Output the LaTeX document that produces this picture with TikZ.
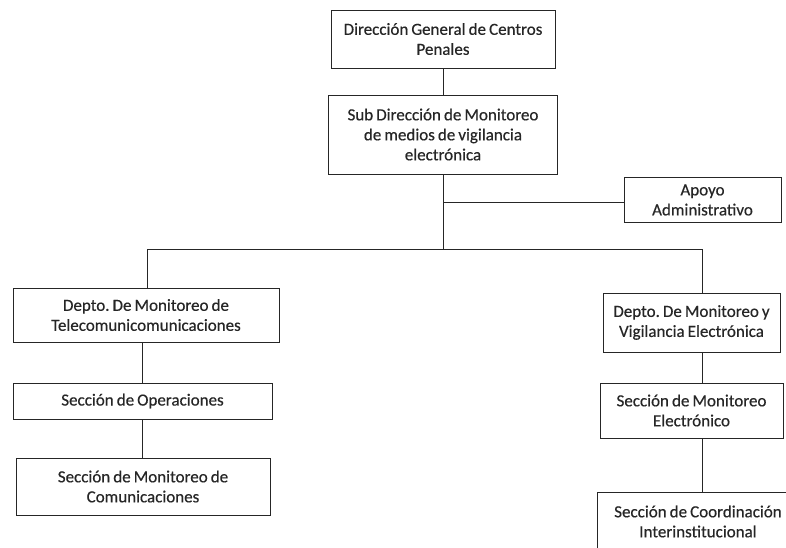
\documentclass[tikz,border=0pt]{standalone}
\usepackage{fontspec}
\setmainfont{Carlito}[FakeBold=0.4]
\definecolor{ink}{HTML}{262626}
\newcommand{\orgfont}{\fontsize{17}{20}\selectfont\frenchspacing\spaceskip=0.18em plus 0.05em\relax}
\tikzset{
  orgbox/.style={draw=ink, line width=0.9pt, rectangle, align=center, text=ink,
    font=\orgfont, inner sep=0pt},
  link/.style={draw=ink, line width=0.9pt}
}
\begin{document}
\begin{tikzpicture}[x=1pt,y=-1pt]
\useasboundingbox (0,0) rectangle (786,547);
\clip (0,0) rectangle (786,547);
\fill[white] (0,0) rectangle (786,547);
\node[orgbox, minimum width=224pt, minimum height=58pt] (g) at (443,39) {Dirección General de Centros\\Penales};
\node[orgbox, minimum width=229pt, minimum height=79pt] (s) at (443,134.5) {Sub Dirección de Monitoreo\\de medios de vigilancia\\electrónica};
\node[orgbox, minimum width=157pt, minimum height=45pt] (a) at (702.5,200) {Apoyo\\Administrativo};
\node[orgbox, minimum width=266pt, minimum height=54pt] (dl) at (146,315) {Depto. De Monitoreo de\\Telecomunicomunicaciones};
\node[orgbox, minimum width=177pt, minimum height=59pt] (dr) at (691.5,322.5) {Depto. De Monitoreo y\\Vigilancia Electrónica};
\node[orgbox, minimum width=259pt, minimum height=36pt] (op) at (142.5,401) {Sección de Operaciones};
\node[orgbox, minimum width=254pt, minimum height=57pt] (mc) at (143,486.5) {Sección de Monitoreo de\\Comunicaciones};
\node[orgbox, minimum width=183pt, minimum height=55pt] (me) at (691.5,410.5) {Sección de Monitoreo\\Electrónico};
\node[orgbox, minimum width=202pt, minimum height=58pt, anchor=north] (ci) at (698,492) {Sección de Coordinación\\Interinstitucional};
% connectors
\coordinate (j) at (443,249);
\coordinate (b) at (443,202);
\coordinate (jl) at (147,249);
\coordinate (jr) at (702,249);
\coordinate (lc) at (142,0);
\draw[link] (g.south) -- (s.north);
\draw[link] (s.south) -- (j);
\draw[link] (b) -- (b -| a.west);
\draw[link] (jl) -- (jr);
\draw[link] (jl) -- (jl |- dl.north);
\draw[link] (jr) -- (jr |- dr.north);
\draw[link] (lc |- dl.south) -- (lc |- op.north);
\draw[link] (lc |- op.south) -- (lc |- mc.north);
\draw[link] (jr |- dr.south) -- (jr |- me.north);
\draw[link] (jr |- me.south) -- (jr |- ci.north);
\end{tikzpicture}
\end{document}
